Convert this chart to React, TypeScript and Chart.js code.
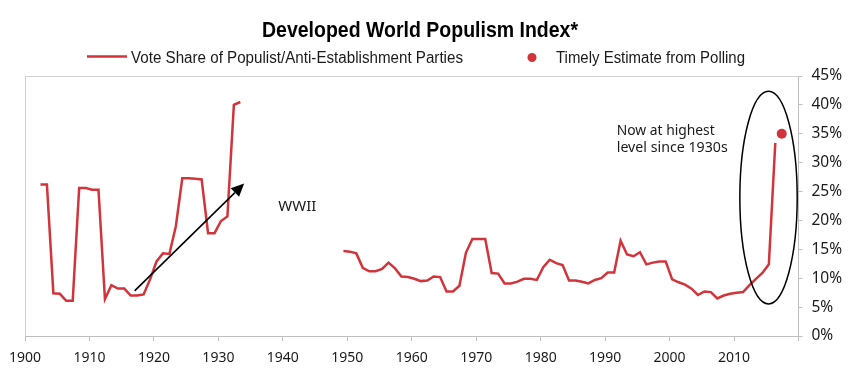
import React, { useEffect, useRef } from "react";
import { Chart, registerables } from "chart.js";

Chart.register(...registerables);

// ---- Data ----
const chartTitle = "Developed World Populism Index*";
const lineLabel = "Vote Share of Populist/Anti-Establishment Parties";
const dotLabel = "Timely Estimate from Polling";

const preWarYears = [
  1902, 1903, 1904, 1905, 1906, 1907, 1908, 1909, 1910, 1911, 1912, 1913, 1914, 1915, 1916, 1917,
  1918, 1919, 1920, 1921, 1922, 1923, 1924, 1925, 1926, 1927, 1928, 1929, 1930, 1931, 1932, 1933,
];
const preWarShare = [
  26.2, 26.2, 7.4, 7.3, 6.1, 6.1, 25.6, 25.6, 25.3, 25.3, 6.4, 8.8, 8.2, 8.2, 7.0, 7.0,
  7.2, 9.8, 12.9, 14.3, 14.2, 19.0, 27.3, 27.3, 27.2, 27.1, 17.8, 17.8, 19.9, 20.7, 40.0, 40.5,
];

const postWarYears = [
  1949, 1950, 1951, 1952, 1953, 1954, 1955, 1956, 1957, 1958, 1959, 1960, 1961, 1962, 1963, 1964,
  1965, 1966, 1967, 1968, 1969, 1970, 1971, 1972, 1973, 1974, 1975, 1976, 1977, 1978, 1979, 1980,
  1981, 1982, 1983, 1984, 1985, 1986, 1987, 1988, 1989, 1990, 1991, 1992, 1993, 1994, 1995, 1996,
  1997, 1998, 1999, 2000, 2001, 2002, 2003, 2004, 2005, 2006, 2007, 2008, 2009, 2010, 2011, 2012,
  2013, 2014, 2015, 2016,
];
const postWarShare = [
  14.7, 14.6, 14.3, 11.8, 11.2, 11.2, 11.6, 12.7, 11.7, 10.3, 10.2, 9.9, 9.5, 9.6, 10.3, 10.2,
  7.7, 7.7, 8.7, 14.4, 16.8, 16.8, 16.8, 10.9, 10.8, 9.1, 9.1, 9.4, 9.9, 9.9, 9.7, 11.9,
  13.2, 12.6, 12.3, 9.6, 9.6, 9.4, 9.1, 9.7, 10.0, 11.0, 11.0, 16.5, 14.1, 13.8, 14.5, 12.4,
  12.7, 12.9, 12.9, 9.8, 9.3, 8.9, 8.2, 7.1, 7.7, 7.6, 6.5, 7.0, 7.3, 7.5, 7.6, 8.8,
  9.9, 10.9, 12.4, 33.4,
];

const pollingYears = [2017];
const pollingEstimate = [35.0];

const xMin = 1900;
const xMax = 2020;
const xStep = 10;
const yMin = 0;
const yMax = 45;
const yStep = 5;

// Annotations in data units
const arrowFrom = { x: 1917.0, y: 7.8 };
const arrowTo = { x: 1934.0, y: 26.4 };
const wwiiText = { x: 1939.3, y: 22.4, text: "WWII" };
const noteLines = ["Now at highest", "level since 1930s"];
const noteAnchor = { x: 1991.8, y1: 35.6, y2: 32.5 };
const ellipseCenter = { x: 2015.35, y: 23.95 };
const ellipseRadius = { x: 4.45, y: 18.4 };

const RED = "#d1343a";
const AXIS = "#bfbfbf";
const TEXT = "#1a1a1a";
const AXIS_FONT = "'Noto Sans', sans-serif";
const NARROW_FONT = "'Liberation Sans Narrow', 'Liberation Sans', sans-serif";

function fillFitted(ctx: CanvasRenderingContext2D, text: string, x: number, y: number, width: number, align: "left" | "center") {
  const w = ctx.measureText(text).width;
  const k = w > 0 ? width / w : 1;
  ctx.save();
  ctx.translate(x, y);
  ctx.scale(k, 1);
  ctx.textAlign = align;
  ctx.fillText(text, 0, 0);
  ctx.restore();
}

const decorPlugin = {
  id: "decor",
  beforeDatasetsDraw(chart: any) {
    const { ctx, chartArea } = chart;
    ctx.save();
    ctx.strokeStyle = "#d0d0d0";
    ctx.lineWidth = 1;
    ctx.beginPath();
    ctx.moveTo(chartArea.left + 0.5, chartArea.bottom);
    ctx.lineTo(chartArea.left + 0.5, chartArea.top + 0.5);
    ctx.lineTo(chartArea.right, chartArea.top + 0.5);
    ctx.stroke();
    ctx.restore();
  },
  afterDraw(chart: any) {
    const { ctx } = chart;
    const xs = chart.scales.x;
    const ys = chart.scales.y;
    const px = (v: number) => xs.getPixelForValue(v);
    const py = (v: number) => ys.getPixelForValue(v);
    ctx.save();

    // Title
    ctx.fillStyle = "#000";
    ctx.font = `bold 22px ${NARROW_FONT}`;
    ctx.textBaseline = "alphabetic";
    fillFitted(ctx, chartTitle, 420, 36.5, 316, "center");

    // Legend
    ctx.strokeStyle = RED;
    ctx.lineWidth = 2.5;
    ctx.beginPath();
    ctx.moveTo(87, 56.5);
    ctx.lineTo(127, 56.5);
    ctx.stroke();
    ctx.font = `16px ${NARROW_FONT}`;
    ctx.fillStyle = TEXT;
    fillFitted(ctx, lineLabel, 131, 63, 332, "left");
    ctx.fillStyle = RED;
    ctx.beginPath();
    ctx.arc(532, 57.5, 4.5, 0, Math.PI * 2);
    ctx.fill();
    ctx.fillStyle = TEXT;
    fillFitted(ctx, dotLabel, 556, 63, 189, "left");

    // Arrow
    const x1 = px(arrowFrom.x), y1 = py(arrowFrom.y);
    const x2 = px(arrowTo.x), y2 = py(arrowTo.y);
    const ang = Math.atan2(y2 - y1, x2 - x1);
    const headLen = 13, headW = 6;
    const bx = x2 - headLen * Math.cos(ang), by = y2 - headLen * Math.sin(ang);
    ctx.strokeStyle = "#000";
    ctx.lineWidth = 1.6;
    ctx.beginPath();
    ctx.moveTo(x1, y1);
    ctx.lineTo(bx, by);
    ctx.stroke();
    ctx.fillStyle = "#000";
    ctx.beginPath();
    ctx.moveTo(x2, y2);
    ctx.lineTo(bx + headW * Math.sin(ang), by - headW * Math.cos(ang));
    ctx.lineTo(bx - headW * Math.sin(ang), by + headW * Math.cos(ang));
    ctx.closePath();
    ctx.fill();

    // Texts
    ctx.fillStyle = TEXT;
    ctx.font = `15px ${AXIS_FONT}`;
    ctx.textBaseline = "middle";
    ctx.textAlign = "left";
    ctx.fillText(wwiiText.text, px(wwiiText.x), py(wwiiText.y));
    fillFitted(ctx, noteLines[0], px(noteAnchor.x), py(noteAnchor.y1), 98, "left");
    fillFitted(ctx, noteLines[1], px(noteAnchor.x), py(noteAnchor.y2), 111, "left");

    // Ellipse
    const cx = px(ellipseCenter.x), cy = py(ellipseCenter.y);
    const rx = Math.abs(px(ellipseCenter.x + ellipseRadius.x) - cx);
    const ry = Math.abs(py(ellipseCenter.y + ellipseRadius.y) - cy);
    ctx.strokeStyle = "#000";
    ctx.lineWidth = 1.5;
    ctx.beginPath();
    ctx.ellipse(cx, cy, rx, ry, 0, 0, Math.PI * 2);
    ctx.stroke();

    ctx.restore();
  },
};

export default function App() {
  const canvasRef = useRef<HTMLCanvasElement | null>(null);

  useEffect(() => {
    if (!canvasRef.current) return;
    const offset = 0.4;
    const linePoints: any[] = [
      ...preWarYears.map((yr, i) => ({ x: yr + offset, y: preWarShare[i] })),
      { x: (preWarYears[preWarYears.length - 1] + postWarYears[0]) / 2, y: null },
      ...postWarYears.map((yr, i) => ({ x: yr + offset, y: postWarShare[i] })),
    ];
    const dotPoints = pollingYears.map((yr, i) => ({ x: yr + offset, y: pollingEstimate[i] }));

    const chart = new Chart(canvasRef.current, {
      type: "line",
      data: {
        datasets: [
          {
            label: lineLabel,
            data: linePoints,
            borderColor: RED,
            backgroundColor: RED,
            borderWidth: 2.5,
            pointRadius: 0,
            tension: 0,
            spanGaps: false,
          },
          {
            label: dotLabel,
            data: dotPoints,
            showLine: false,
            borderColor: RED,
            backgroundColor: RED,
            pointRadius: 5,
            pointBackgroundColor: RED,
            pointBorderWidth: 0,
          },
        ],
      },
      options: {
        animation: false,
        responsive: false,
        layout: { padding: { top: 76, left: 20, right: 0, bottom: 0 } },
        plugins: {
          legend: { display: false },
          title: { display: false },
          tooltip: { enabled: false },
        },
        scales: {
          x: {
            type: "linear",
            min: xMin,
            max: xMax,
            position: "bottom",
            afterFit: (s: any) => {
              s.height = 39;
            },
            ticks: {
              stepSize: xStep,
              autoSkip: false,
              maxRotation: 0,
              padding: 9,
              color: TEXT,
              font: { family: AXIS_FONT, size: 14 },
              callback: (v: any) => (Number(v) === xMax ? "" : String(v)),
            },
            grid: { drawOnChartArea: false, tickLength: 5, color: AXIS },
            border: { color: AXIS, width: 1 },
          },
          y: {
            type: "linear",
            min: yMin,
            max: yMax,
            position: "right",
            afterFit: (s: any) => {
              s.width = 53.5;
            },
            ticks: {
              stepSize: yStep,
              padding: 9,
              color: TEXT,
              font: { family: AXIS_FONT, size: 15.5 },
              callback: (v: any) => `${v}%`,
            },
            grid: { drawOnChartArea: false, tickLength: 4, color: AXIS },
            border: { color: AXIS, width: 1 },
          },
        },
      },
      plugins: [decorPlugin],
    });
    return () => chart.destroy();
  }, []);

  return (
    <div style={{ position: "absolute", left: 0, top: 0, width: 852, height: 375, background: "#fff" }}>
      <canvas ref={canvasRef} width={852} height={375} style={{ display: "block" }} />
    </div>
  );
}
